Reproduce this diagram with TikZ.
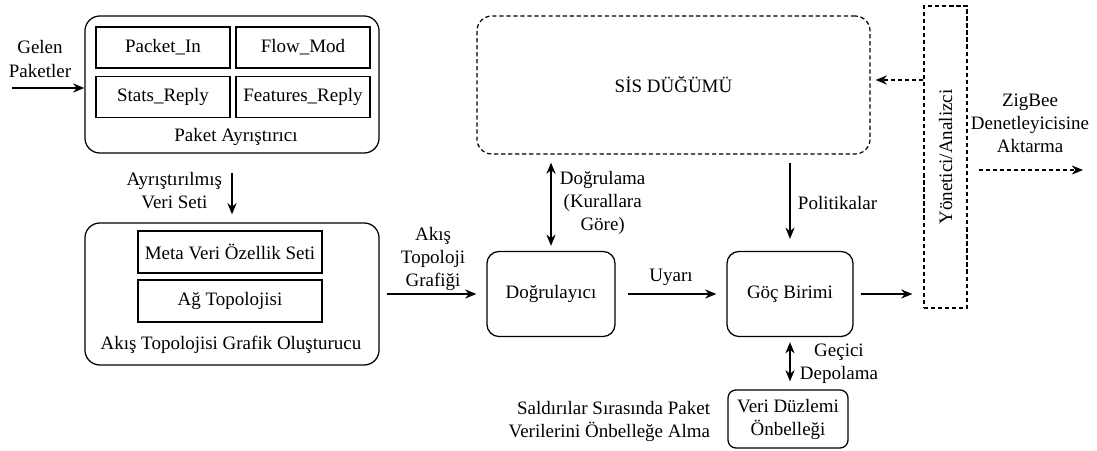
\documentclass[tikz,border=0pt]{standalone}
\usepackage{fontspec}
\setmainfont{Liberation Serif}
\usetikzlibrary{arrows.meta,calc,positioning}

\begin{document}
\begin{tikzpicture}[
    x=0.025cm, y=-0.025cm,
    font=\fontsize{13.5}{16.4}\selectfont,
    groupbox/.style={rectangle, rounded corners=0.375cm, draw=black, line width=0.9pt, minimum width=7.35cm, minimum height=3.45cm},
    fieldbox/.style={rectangle, draw=black, line width=0.9pt, minimum width=3.35cm, minimum height=1.025cm},
    blockbox/.style={rectangle, rounded corners=0.3cm, draw=black, line width=0.9pt, minimum width=3.2cm, minimum height=2.125cm},
    dashedbox/.style={rectangle, draw=black, line width=0.85pt, dash pattern=on 3pt off 2pt},
    arrow/.style={-{Stealth[length=8pt,width=6.5pt]}, line width=0.9pt},
    twoway/.style={{Stealth[length=8pt,width=6.5pt]}-{Stealth[length=8pt,width=6.5pt]}, line width=0.9pt},
    dasharrow/.style={arrow, line width=0.85pt, dash pattern=on 3pt off 2pt}
]
\useasboundingbox (0,0) rectangle (1097,451);

% Paket ayristirici
\node[groupbox, minimum height=3.425cm] (parser) at (232,84.5) {};
\node[fieldbox] (pin) at (163,47.5) {Packet\_In};
\node[fieldbox] (flowmod) at (303,47.5) {Flow\_Mod};
\node[fieldbox] (stats) at (163,97) {Stats\_Reply};
\node[fieldbox] (features) at (303,97) {Features\_Reply};
\node (parserlabel) at (236,137) {Paket Ayrıştırıcı};
\node[align=center] (inlabel) at (40,59) {Gelen\\Paketler};

% Akis topolojisi grafik olusturucu
\node[groupbox, minimum height=3.55cm] (builder) at (232,294) {};
\node[fieldbox, minimum width=4.6cm, minimum height=1.05cm] (meta) at (230,252) {Meta Veri Özellik Seti};
\node[fieldbox, minimum width=4.6cm, minimum height=1.05cm] (topo) at (230,301) {Ağ Topolojisi};
\node (builderlabel) at (231,345) {Akış Topolojisi Grafik Oluşturucu};
\node[align=center, anchor=east] (parsedlabel) at (227,191) {Ayrıştırılmış\\Veri Seti};

% Sis dugumu ve birimler
\node[dashedbox, rounded corners=0.375cm, minimum width=9.825cm, minimum height=3.45cm] (sis) at (673.5,85) {SİS DÜĞÜMÜ};
\node[blockbox] (val) at (551,294) {Doğrulayıcı};
\node[blockbox, minimum width=3.15cm] (mig) at (790,294) {Göç Birimi};
\node[rectangle, rounded corners=0.2cm, draw=black, line width=0.9pt, minimum width=3cm, minimum height=1.45cm, align=center] (cache) at (788,419) {Veri Düzlemi\\Önbelleği};
\node[dashedbox, minimum width=1.075cm, minimum height=7.55cm] (mgr) at (945.5,157) {\rotatebox{90}{Yönetici/Analizci}};

% Etiketler
\node[align=center] (flowlabel) at (433,259) {Akış\\Topoloji\\Grafiği};
\node[align=center, anchor=west] (verifylabel) at (555,203) {Doğrulama\\(Kurallara\\Göre)};
\node[anchor=west] (policylabel) at (793,203) {Politikalar};
\node[align=center, anchor=west] (templabel) at (795,364) {Geçici\\Depolama};
\node[align=right, anchor=east] (attacklabel) at (715,421) {Saldırılar Sırasında Paket\\Verilerini Önbelleğe Alma};
\node[align=center] (zigbeelabel) at (1030,123) {ZigBee\\Denetleyicisine\\Aktarma};

% Baglantilar
\coordinate (in) at (12,88);
\coordinate (out) at (1083,170);
\coordinate (back) at ($(sis.east)+(0,-5)$);
\draw[arrow] (in) -- (in -| parser.west);
\draw[arrow, shorten <=0.475cm, shorten >=0.2cm] (parser.south) -- (builder.north);
\draw[arrow, shorten <=0.175cm, shorten >=0.25cm] (builder.east) -- (val.west);
\draw[arrow, shorten <=0.3cm, shorten >=0.25cm] (val.east) -- node[above=2pt] {Uyarı} (mig.west);
\draw[arrow, shorten <=0.175cm, shorten >=0.275cm] (mig.east) -- (mig.east -| mgr.west);
\draw[twoway, shorten <=0.2cm, shorten >=0.125cm] (val.north |- sis.south) -- (val.north);
\draw[arrow, shorten <=0.2cm, shorten >=0.3cm] (mig.north |- sis.south) -- (mig.north);
\draw[dasharrow, shorten >=0.125cm] (back -| mgr.west) -- (back);
\draw[dasharrow, shorten <=0.275cm] (out -| mgr.east) -- (out);
\draw[twoway, shorten <=0.125cm, shorten >=0.2cm] (mig.south) -- (mig.south |- cache.north);

\end{tikzpicture}
\end{document}
